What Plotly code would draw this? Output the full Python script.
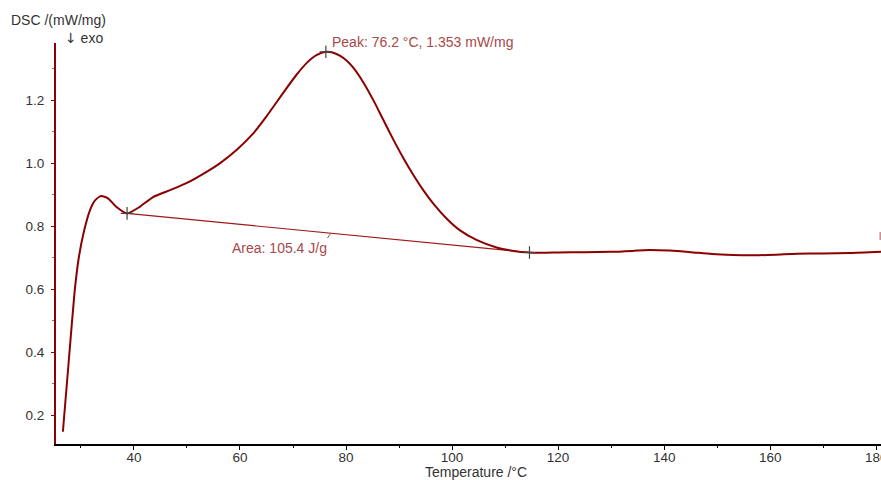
import plotly.graph_objects as go

# ---- data ----
temp = [26.6, 27.7, 28.8, 29.6, 30.6, 31.7, 32.7, 33.8, 35.1, 36.6, 38.7, 41.1, 43.6,
        46.8, 49.9, 53.7, 56.2, 59.4, 62.5, 65.0, 66.9, 68.8, 70.7, 72.6, 74.5, 76.2,
        77.6, 78.9, 80.2, 81.4, 83.3, 85.2, 87.0, 88.9, 90.8, 92.7, 94.6, 96.5, 99.0, 101.5,
        104.7, 108.4, 111.6, 114.6, 117.0, 120.0, 125.0, 130.0, 134.0, 137.0, 141.0, 145.0,
        149.0, 153.0, 157.0, 161.0, 165.0, 170.0, 175.0, 181.0]
dsc = [0.147, 0.370, 0.590, 0.700, 0.785, 0.850, 0.882, 0.895, 0.888, 0.862, 0.840, 0.861,
       0.892, 0.914, 0.936, 0.972, 0.999, 1.042, 1.094, 1.148, 1.193, 1.238, 1.281, 1.318,
       1.343, 1.353, 1.350, 1.340, 1.324, 1.302, 1.255, 1.198, 1.138, 1.075, 1.016, 0.962,
       0.913, 0.870, 0.823, 0.786, 0.755, 0.732, 0.721, 0.716, 0.715, 0.716, 0.717, 0.718,
       0.721, 0.724, 0.722, 0.717, 0.711, 0.708, 0.707, 0.709, 0.712, 0.713, 0.714, 0.718]

baseline_t = [38.7, 114.6]
baseline_v = [0.840, 0.716]

marker_t = [38.7, 76.2, 114.6]
marker_v = [0.840, 1.353, 0.716]

peak_label = "Peak: 76.2 °C, 1.353 mW/mg"
area_label = "Area: 105.4 J/g"
x_title = "Temperature /°C"
y_title = "DSC /(mW/mg)"
exo_label = "<span style='font-family:DejaVu Sans'>↓</span> exo"

x_range = [25.3, 180.9]
y_range = [0.108, 1.381]

FONT = "Liberation Sans, Arial, sans-serif"
TXT = "#333333"
LABEL_RED = "#a84848"
CURVE = "#8b0000"
FS = 14
TFS = 13.5

fig = go.Figure()

fig.add_trace(go.Scatter(x=baseline_t, y=baseline_v, mode="lines",
                         line=dict(color="#a01818", width=1.2), hoverinfo="skip"))
fig.add_trace(go.Scatter(x=temp, y=dsc, mode="lines",
                         line=dict(color=CURVE, width=2, shape="spline", smoothing=0.6)))
fig.add_trace(go.Scatter(x=marker_t, y=marker_v, mode="markers", xaxis="x2",
                         marker=dict(symbol="cross-thin", size=9,
                                     line=dict(color="#444444", width=1.2))))

# leader line from area label to baseline
fig.add_shape(type="line", x0=76.5, y0=0.762, x1=77.1, y1=0.777,
              line=dict(color=LABEL_RED, width=1), xref="x", yref="y")
# clipped label mark at right edge
fig.add_shape(type="line", x0=180.75, y0=0.756, x1=180.75, y1=0.781,
              line=dict(color="#d08a8a", width=1.5), xref="x", yref="y")

fig.add_annotation(x=76.9, y=(444 - 41.7) / 401, xref="x", yref="paper", text=peak_label,
                   showarrow=False, xanchor="left", yanchor="middle",
                   font=dict(family=FONT, size=FS, color=LABEL_RED))
fig.add_annotation(x=58.2, y=0.729, xref="x", yref="y", text=area_label,
                   showarrow=False, xanchor="left", yanchor="middle",
                   font=dict(family=FONT, size=FS, color=LABEL_RED))

fig.add_annotation(x=(9 - 56) / 825, y=(444 - 20) / 401, xref="paper", yref="paper",
                   text=y_title, showarrow=False, xanchor="left", yanchor="middle",
                   font=dict(family=FONT, size=FS, color=TXT))
fig.add_annotation(x=(63 - 56) / 825, y=(444 - 38) / 401, xref="paper", yref="paper",
                   text=exo_label, showarrow=False, xanchor="left", yanchor="middle",
                   font=dict(family=FONT, size=FS, color=TXT))
fig.add_annotation(x=(476 - 56) / 825, y=(444 - 471.5) / 401, xref="paper", yref="paper",
                   text=x_title, showarrow=False, xanchor="center", yanchor="middle",
                   font=dict(family=FONT, size=FS, color=TXT))

fig.update_layout(
    width=881, height=480,
    margin=dict(l=56, r=0, t=43, b=36, pad=0, autoexpand=False),
    paper_bgcolor="white", plot_bgcolor="white",
    showlegend=False,
    font=dict(family=FONT, size=FS, color=TXT),
    xaxis=dict(range=x_range, showgrid=False, zeroline=False, automargin=False,
               showline=True, linecolor="#000000", linewidth=1.5,
               ticks="", tick0=0, dtick=20, ticklabeloverflow="allow",
               ticklabelstandoff=0,
               tickfont=dict(family=FONT, size=TFS, color=TXT)),
    xaxis2=dict(range=x_range, overlaying="x", anchor="y", side="bottom",
                showgrid=False, zeroline=False, automargin=False, showline=False,
                showticklabels=False,
                ticks="outside", ticklen=5, tickcolor="#000000", tickwidth=1,
                tick0=0, dtick=20,
                minor=dict(ticks="outside", ticklen=3, dtick=10, tick0=0,
                           tickcolor="#000000", showgrid=False)),
    yaxis=dict(range=y_range, showgrid=False, zeroline=False, automargin=False,
               showline=True, linecolor=CURVE, linewidth=2,
               ticks="outside", ticklen=3, tickcolor=CURVE, tickwidth=1,
               tick0=0, dtick=0.2, tickformat=".1f",
               minor=dict(ticks="outside", ticklen=2, dtick=0.1, tick0=0,
                          tickcolor="#b06060", showgrid=False),
               ticklabelstandoff=4,
               tickfont=dict(family=FONT, size=TFS, color=TXT)),
)

fig.write_html("out.html")
